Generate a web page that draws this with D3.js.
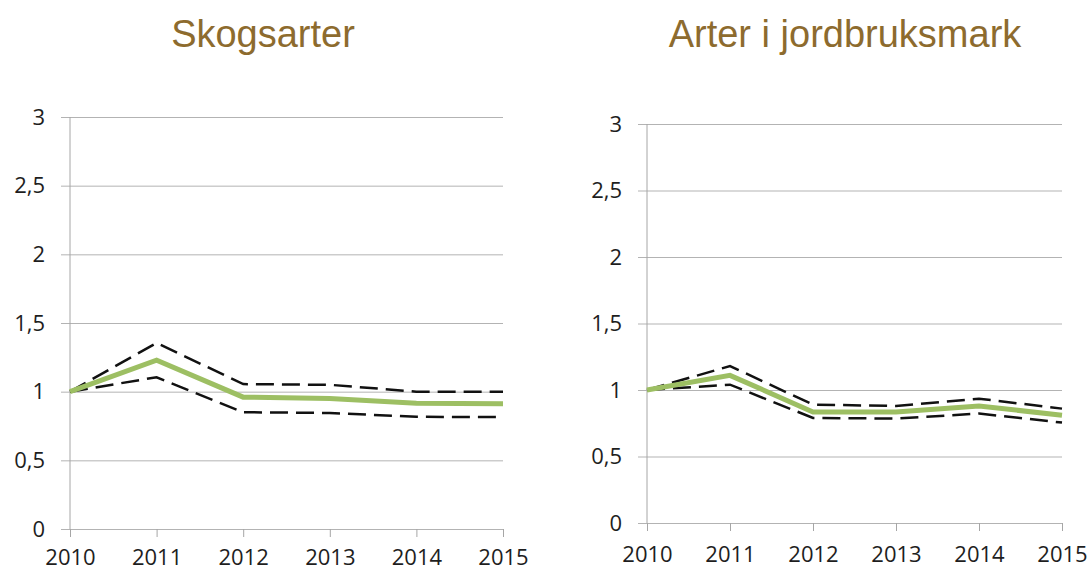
<!DOCTYPE html>
<html>
<head>
<meta charset="utf-8">
<script src="https://cdn.jsdelivr.net/npm/d3@7"></script>
<style>
  body { margin: 0; background: #fff; }
  .tick text { font-family: "Open Sans", sans-serif; font-size: 22px; fill: #1e1e1e; }
  .title { font-family: "Liberation Sans", Arial, sans-serif; font-size: 38px; fill: #8d6b2e; }
</style>
</head>
<body>
<div id="chart"></div>
<script>
const years = [2010, 2011, 2012, 2013, 2014, 2015];
const yTicks = [0, 0.5, 1, 1.5, 2, 2.5, 3];

const skogMean  = [1, 1.23, 0.96, 0.95, 0.915, 0.912];
const skogUpper = [1, 1.355, 1.055, 1.05, 1.0, 1.0];
const skogLower = [1, 1.105, 0.85, 0.845, 0.817, 0.815];

const jordMean  = [1, 1.11, 0.835, 0.835, 0.88, 0.81];
const jordUpper = [1, 1.18, 0.89, 0.88, 0.935, 0.86];
const jordLower = [1, 1.04, 0.79, 0.785, 0.823, 0.755];

const w = 1092;
const h = 573;
const svg = d3.select("#chart")
  .append("svg")
  .attr("width", w)
  .attr("height", h);

const locale = d3.formatLocale({ decimal: ",", thousands: " ", grouping: [3], currency: ["", " kr"] });
const fmt = locale.format("~g");

const panels = [
  { title: "Skogsarter", tx: 263, x0: 70, x1: 503, y0: 529, y1: 117, pad: 12,
    mean: skogMean, upper: skogUpper, lower: skogLower },
  { title: "Arter i jordbruksmark", tx: 845, x0: 647, x1: 1062, y0: 523, y1: 124, pad: 15,
    mean: jordMean, upper: jordUpper, lower: jordLower }
];

panels.forEach((p) => {
  const x = d3.scaleLinear().domain([2010, 2015]).range([p.x0, p.x1]);
  const y = d3.scaleLinear().domain([0, 3]).range([p.y0, p.y1]);
  const g = svg.append("g");

  g.append("text")
    .attr("class", "title")
    .attr("x", p.tx)
    .attr("y", 47)
    .attr("text-anchor", "middle")
    .text(p.title);

  // gridlines + y ticks
  const ya = g.append("g")
    .attr("transform", `translate(${p.x1},0)`)
    .call(d3.axisLeft(y).tickValues(yTicks).tickFormat(fmt)
      .tickSize(p.x1 - p.x0 + 9).tickPadding(16));
  ya.select(".domain").remove();
  ya.selectAll(".tick line").attr("stroke", "#b3b3b3");

  // vertical axis line
  g.append("line")
    .attr("x1", p.x0).attr("x2", p.x0)
    .attr("y1", y(3)).attr("y2", y(0))
    .attr("stroke", "#a6a6a6");

  const xa = g.append("g")
    .attr("transform", `translate(0,${p.y0})`)
    .call(d3.axisBottom(x).tickValues(years).tickFormat(d3.format("d"))
      .tickSize(8).tickPadding(p.pad));
  xa.select(".domain").remove();
  xa.selectAll(".tick line").attr("stroke", "#a6a6a6");

  const line = d3.line()
    .x((d, i) => x(years[i]))
    .y((d) => y(d));

  [p.upper, p.lower].forEach((s) => {
    g.append("path")
      .datum(s)
      .attr("d", line)
      .attr("fill", "none")
      .attr("stroke", "#111")
      .attr("stroke-width", 2.5)
      .attr("stroke-dasharray", "18,8");
  });

  g.append("path")
    .datum(p.mean)
    .attr("d", line)
    .attr("fill", "none")
    .attr("stroke", "#9dbf63")
    .attr("stroke-width", 5);
});
</script>
</body>
</html>
